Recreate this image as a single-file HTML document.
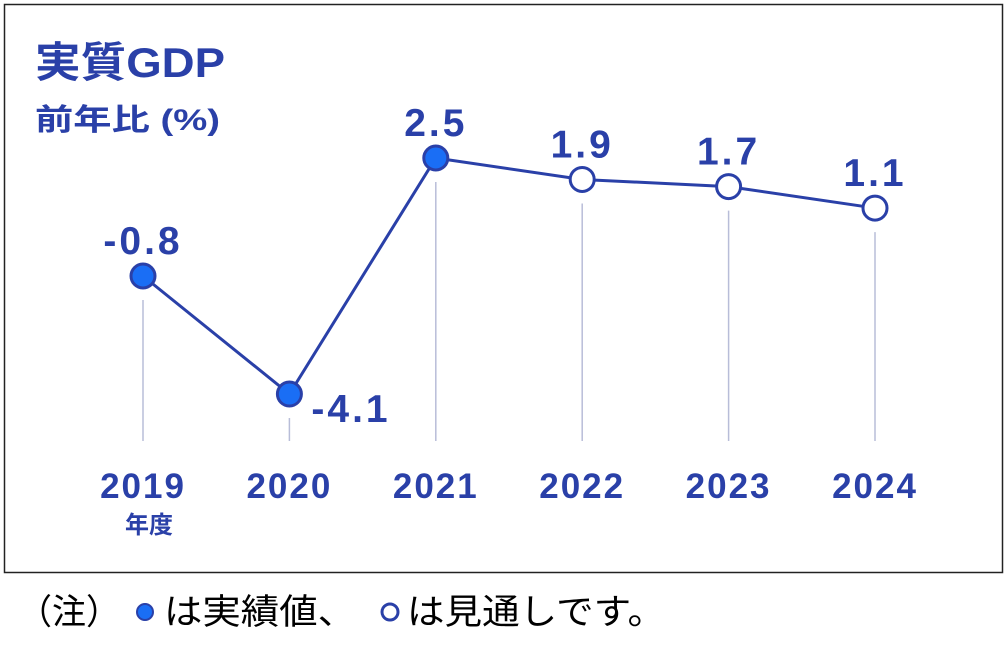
<!DOCTYPE html>
<html><head><meta charset="utf-8"><style>
body{margin:0;background:#fff;width:1006px;height:666px;overflow:hidden}
svg{display:block}
text{font-family:"Liberation Sans","Noto Sans CJK JP",sans-serif}
</style></head><body>
<svg id="c" width="1006" height="666">
<rect x="4.5" y="4.5" width="998" height="568" fill="#fff" stroke="#222" stroke-width="1.5"/>
<text x="35" y="77" font-size="42" font-weight="bold" fill="#2a40a8" textLength="190" lengthAdjust="spacingAndGlyphs">実質GDP</text>
<text x="35" y="130" font-size="30" font-weight="bold" fill="#2a40a8" textLength="185" lengthAdjust="spacingAndGlyphs">前年比 (%)</text>
<text x="125" y="533" font-size="24" font-weight="bold" fill="#2a40a8">年度</text>
<g id="grid"></g><g id="ln"></g><g id="pts"></g><g id="lbl"></g>
<text x="18" y="624" font-size="35" fill="#000" textLength="102" lengthAdjust="spacingAndGlyphs">（注）</text>
<circle cx="145" cy="612" r="8" fill="#1a6ef5" stroke="#2a40a8" stroke-width="2"/>
<text x="164" y="624" font-size="35" fill="#000" textLength="192" lengthAdjust="spacingAndGlyphs">は実績値、</text>
<circle cx="390" cy="612" r="8" fill="#fff" stroke="#2a40a8" stroke-width="3"/>
<text x="407" y="624" font-size="35" fill="#000" textLength="258" lengthAdjust="spacingAndGlyphs">は見通しです。</text>
</svg>
<script>
const years=["2019","2020","2021","2022","2023","2024"];
const values=[-0.8,-4.1,2.5,1.9,1.7,1.1];
const actual=[true,true,true,false,false,false];
const valueLabels=["-0.8","-4.1","2.5","1.9","1.7","1.1"];
const NS="http://www.w3.org/2000/svg";
function xs(i){return 143+i*146.4;}
function ys(v){return 158+(2.5-v)*35.76;}
function mk(t,a,p){const e=document.createElementNS(NS,t);for(const k in a)e.setAttribute(k,a[k]);p.appendChild(e);return e;}
const g=document.getElementById('grid'),ln=document.getElementById('ln'),pts=document.getElementById('pts'),lbl=document.getElementById('lbl');
let d="";
values.forEach((v,i)=>{
 const x=xs(i),y=ys(v);
 const l=mk('line',{x1:x,x2:x,y1:y+24,y2:441,stroke:'#b8bdd8','stroke-width':1.5},g);
 
 
 d+=(i?'L':'M')+x+' '+y;
 const c=mk('circle',{cx:x,cy:y,r:12,fill:actual[i]?'#1a6ef5':'#fff',stroke:'#2a40a8','stroke-width':3},pts);
 
 
 const neg=v<-2;
 const t=mk('text',{x:neg?x+22:x,y:neg?y+28:y-22,'font-size':39,'font-weight':'bold',fill:'#2a40a8','letter-spacing':3,'text-anchor':neg?'start':'middle'},lbl);
 t.textContent=valueLabels[i];
 
 
 const yt=mk('text',{x:x,y:498,'font-size':35,'font-weight':'bold',fill:'#2a40a8','letter-spacing':2,'text-anchor':'middle'},lbl);
 yt.textContent=years[i];
 
 
});
const p=mk('path',{d:d,fill:'none',stroke:'#2a40a8','stroke-width':3},ln);


</script>
</body></html>
